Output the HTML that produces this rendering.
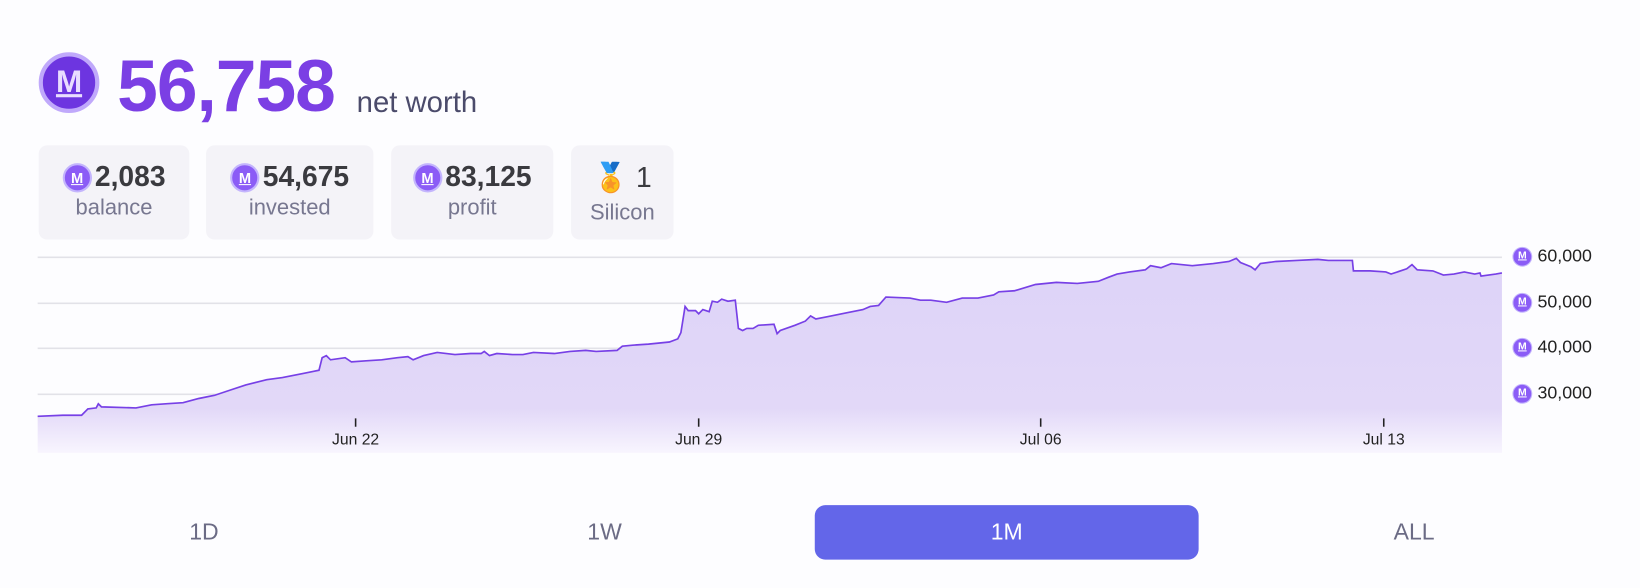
<!DOCTYPE html>
<html><head><meta charset="utf-8"><style>
html,body{margin:0;padding:0;background:#fdfdff;width:1640px;height:588px;overflow:hidden;font-family:"Liberation Sans",sans-serif}
#w{position:absolute;left:0;top:0;width:1568px;height:562px;transform:scale(1.04592);transform-origin:0 0}
.card{position:absolute;top:139px;height:90px;background:#f4f3f8;border-radius:8px;text-align:center}
.num{font-weight:bold;font-size:27px;color:#3a3a3f;margin-top:15px;white-space:nowrap;display:flex;align-items:center;justify-content:center}
.lab{font-size:21px;color:#777790;margin-top:2px}
.c{display:inline-block;width:28px;height:28px;border-radius:50%;background:#8b5cf6;border:2px solid #c4b5fd;box-sizing:border-box;margin-right:3px;color:#fff;font-size:14px;line-height:24px;font-weight:bold;text-align:center;text-decoration:underline}
.btn{position:absolute;top:483px;height:52px;line-height:52px;font-size:22px;color:#6b6b85;text-align:center}
.yl{position:absolute;left:1446px;font-size:17px;color:#222;white-space:nowrap;display:flex;align-items:center}
.yl .c{width:19px;height:19px;font-size:10px;line-height:15px;border-width:1.5px;margin-right:5px}
.xl{position:absolute;top:412px;font-size:15px;color:#222;width:80px;text-align:center}
</style></head><body><div id="w">
<div style="position:absolute;left:37px;top:50px;width:58px;height:58px;border-radius:50%;background:#6d35e0;border:4px solid #c0a9fb;box-sizing:border-box;color:#e9ddff;font-size:30px;font-weight:bold;text-align:center;line-height:50px;text-decoration:underline">M</div>
<div style="position:absolute;left:112px;top:42px;font-size:70px;font-weight:bold;color:#7b3fe4;letter-spacing:-1px">56,758</div>
<div style="position:absolute;left:341px;top:82px;font-size:28px;color:#4b4b6b">net worth</div>
<div class="card" style="left:37px;width:144px"><div class="num"><span class="c">M</span>2,083</div><div class="lab">balance</div></div>
<div class="card" style="left:197px;width:160px"><div class="num"><span class="c">M</span>54,675</div><div class="lab">invested</div></div>
<div class="card" style="left:374px;width:155px"><div class="num"><span class="c">M</span>83,125</div><div class="lab">profit</div></div>
<div class="card" style="left:546px;width:98px"><div class="num" style="font-weight:normal">🏅 1</div><div class="lab" style="margin-top:6px">Silicon</div></div>
<svg style="position:absolute;left:0;top:0" width="1568" height="562">
<defs><linearGradient id="g" x1="0" x2="0" gradientUnits="userSpaceOnUse" y1="240" y2="433"><stop offset="0" stop-color="#ddd3f8"/><stop offset="0.78" stop-color="#e2d8f8"/><stop offset="1" stop-color="#f8f5fe"/></linearGradient></defs>
<g stroke="#e2e2e8" stroke-width="1.5"><line x1="36" y1="246" x2="1436" y2="246"/><line x1="36" y1="290" x2="1436" y2="290"/><line x1="36" y1="333" x2="1436" y2="333"/><line x1="36" y1="377" x2="1436" y2="377"/></g>
<path fill="url(#g)" d="M36,398 L60,397 L78,397 L84,391 L92,390 L94,386 L97,389 L130,390 L145,387 L160,386 L175,385 L190,381 L205,378 L220,373 L235,368 L255,363 L270,361 L290,357 L300,355 L305,354 L308,342 L312,340 L316,344 L330,342 L336,346 L350,345 L365,344 L380,342 L390,341 L395,344 L405,340 L418,337 L435,339 L450,338 L460,338 L463,336 L468,340 L475,338 L490,339 L500,339 L510,337 L530,338 L545,336 L560,335 L570,336 L590,335 L595,331 L605,330 L620,329 L640,327 L648,324 L651,318 L655,293 L658,297 L665,297 L668,300 L672,296 L678,298 L681,288 L686,289 L690,286 L696,288 L703,287 L706,314 L710,316 L714,314 L720,314 L725,311 L740,310 L743,319 L746,316 L760,311 L770,307 L775,302 L780,305 L790,303 L810,299 L825,296 L832,293 L840,292 L847,284 L870,285 L880,287 L890,287 L905,289 L920,285 L935,285 L950,282 L955,279 L970,278 L990,272 L1010,270 L1030,271 L1050,269 L1060,265 L1068,262 L1080,260 L1095,258 L1100,254 L1110,256 L1120,252 L1140,254 L1160,252 L1175,250 L1182,247 L1186,251 L1196,255 L1200,258 L1205,252 L1220,250 L1240,249 L1260,248 L1270,249 L1280,249 L1293,249 L1294,259 L1310,259 L1325,260 L1330,262 L1345,257 L1350,253 L1355,258 L1370,259 L1380,263 L1390,262 L1400,260 L1410,262 L1415,261 L1416,264 L1430,262 L1436,261 L1436,433 L36,433 Z"/>
<path d="M36,398 L60,397 L78,397 L84,391 L92,390 L94,386 L97,389 L130,390 L145,387 L160,386 L175,385 L190,381 L205,378 L220,373 L235,368 L255,363 L270,361 L290,357 L300,355 L305,354 L308,342 L312,340 L316,344 L330,342 L336,346 L350,345 L365,344 L380,342 L390,341 L395,344 L405,340 L418,337 L435,339 L450,338 L460,338 L463,336 L468,340 L475,338 L490,339 L500,339 L510,337 L530,338 L545,336 L560,335 L570,336 L590,335 L595,331 L605,330 L620,329 L640,327 L648,324 L651,318 L655,293 L658,297 L665,297 L668,300 L672,296 L678,298 L681,288 L686,289 L690,286 L696,288 L703,287 L706,314 L710,316 L714,314 L720,314 L725,311 L740,310 L743,319 L746,316 L760,311 L770,307 L775,302 L780,305 L790,303 L810,299 L825,296 L832,293 L840,292 L847,284 L870,285 L880,287 L890,287 L905,289 L920,285 L935,285 L950,282 L955,279 L970,278 L990,272 L1010,270 L1030,271 L1050,269 L1060,265 L1068,262 L1080,260 L1095,258 L1100,254 L1110,256 L1120,252 L1140,254 L1160,252 L1175,250 L1182,247 L1186,251 L1196,255 L1200,258 L1205,252 L1220,250 L1240,249 L1260,248 L1270,249 L1280,249 L1293,249 L1294,259 L1310,259 L1325,260 L1330,262 L1345,257 L1350,253 L1355,258 L1370,259 L1380,263 L1390,262 L1400,260 L1410,262 L1415,261 L1416,264 L1430,262 L1436,261" fill="none" stroke="#7740e6" stroke-width="1.6"/>
<g stroke="#222" stroke-width="1.5"><line x1="340" y1="400" x2="340" y2="408"/><line x1="668" y1="400" x2="668" y2="408"/><line x1="995" y1="400" x2="995" y2="408"/><line x1="1323" y1="400" x2="1323" y2="408"/></g>
</svg>
<div class="xl" style="left:300px">Jun 22</div><div class="xl" style="left:628px">Jun 29</div><div class="xl" style="left:955px">Jul 06</div><div class="xl" style="left:1283px">Jul 13</div>
<div class="yl" style="top:235px"><span class="c">M</span>60,000</div>
<div class="yl" style="top:279px"><span class="c">M</span>50,000</div>
<div class="yl" style="top:322px"><span class="c">M</span>40,000</div>
<div class="yl" style="top:366px"><span class="c">M</span>30,000</div>
<div class="btn" style="left:100px;width:190px">1D</div>
<div class="btn" style="left:483px;width:190px">1W</div>
<div class="btn" style="left:779px;width:367px;background:#6366e9;color:#fff;border-radius:10px">1M</div>
<div class="btn" style="left:1257px;width:190px">ALL</div>
</div></body></html>
